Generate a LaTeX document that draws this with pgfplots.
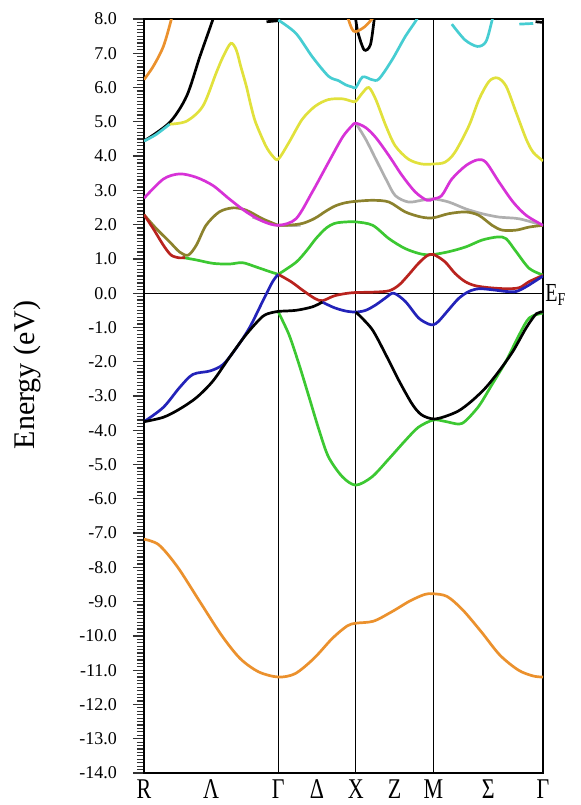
\documentclass[border=0pt]{standalone}
\usepackage{graphicx}
\usepackage{pgfplots}
\pgfplotsset{compat=1.18}
\usepackage{fontspec}
\setmainfont{Liberation Serif}
\definecolor{bOrange}{RGB}{235,145,45}
\definecolor{bCyan}{RGB}{70,205,210}
\definecolor{bYellow}{RGB}{225,225,60}
\definecolor{bMagenta}{RGB}{215,50,215}
\definecolor{bOlive}{RGB}{140,130,45}
\definecolor{bGreen}{RGB}{60,200,50}
\definecolor{bRed}{RGB}{185,35,30}
\definecolor{bBlue}{RGB}{35,35,185}
\definecolor{bGray}{RGB}{175,175,175}
\newcommand{\tl}[1]{\scalebox{1}[1.3]{#1}}
\begin{document}
\begin{tikzpicture}
\path[use as bounding box] (-72pt,-16pt) rectangle (218pt,386.5pt);
\begin{axis}[
  scale only axis, width=199.5pt, height=377pt,
  xmin=0, xmax=5.146, ymin=-14, ymax=8,
  xtick={0,0.866,1.732,2.232,2.732,3.232,3.732,4.439,5.146},
  xticklabels={\tl{R},\tl{Λ},\tl{Γ},\tl{Δ},\tl{X},\tl{Z},\tl{M},\tl{Σ},\tl{Γ}},
  x tick style={draw=none},
  xticklabel style={font=\fontsize{11}{13}\selectfont, anchor=north, inner sep=0pt, yshift=2.5pt},
  ytick={-14,-13,...,8},
  minor y tick num=9,
  ytick pos=left,
  tick align=outside,
  major tick length=5.5pt, minor tick length=3.5pt,
  y tick style={black!80, line width=0.6pt},
  /pgf/number format/assume math mode=true,
  yticklabel style={font=\fontsize{9}{10}\selectfont, xshift=-4.5pt,
    /pgf/number format/fixed, /pgf/number format/fixed zerofill,
    /pgf/number format/precision=1},
  ylabel={Energy (eV)},
  ylabel style={font=\fontsize{15}{17}\selectfont, at={(axis description cs:-0.293,0.528)}, anchor=center},
  axis line style={line width=0.9pt},
  every axis plot/.append style={smooth, line width=1.35pt, no markers},
]
% reference lines
\addplot[black, line width=0.6pt, sharp plot] coordinates {(0,0) (5.146,0)};
\addplot[black, line width=0.6pt, sharp plot] coordinates {(1.732,-14) (1.732,8)};
\addplot[black, line width=0.6pt, sharp plot] coordinates {(2.732,-14) (2.732,8)};
\addplot[black, line width=0.6pt, sharp plot] coordinates {(3.732,-14) (3.732,8)};
% gray
\addplot[bGray] coordinates {(1.4,2.22) (1.57,2.08) (1.732,1.98) (2.02,1.98)};
\addplot[bGray] coordinates {(2.732,4.96) (2.86,4.49) (2.99,3.91) (3.12,3.33) (3.24,2.85) (3.41,2.66) (3.58,2.71) (3.732,2.75) (3.93,2.66) (4.15,2.46) (4.36,2.32) (4.58,2.22) (4.84,2.17) (5.146,1.98)};
% olive
\addplot[bOlive] coordinates {(0,2.29) (0.16,1.88) (0.33,1.5) (0.46,1.2) (0.57,1.11) (0.675,1.4) (0.8,1.98) (0.97,2.37) (1.15,2.49) (1.32,2.42) (1.53,2.17) (1.732,1.98)};
\addplot[bOlive] coordinates {(1.732,1.98) (1.9,1.99) (2.05,2.04) (2.2,2.18) (2.35,2.4) (2.47,2.55) (2.6,2.64) (2.732,2.68) (2.95,2.71) (3.16,2.66) (3.37,2.37) (3.58,2.22) (3.732,2.2) (3.93,2.32) (4.15,2.37) (4.32,2.27) (4.49,1.98) (4.62,1.84) (4.8,1.84) (4.97,1.93) (5.146,1.98)};
% green
\addplot[bGreen] coordinates {(0.5,1.04) (0.675,0.97) (0.89,0.87) (1.1,0.85) (1.27,0.89) (1.44,0.77) (1.62,0.63) (1.732,0.55)};
\addplot[bGreen] coordinates {(1.732,0.55) (1.96,0.9) (2.1,1.25) (2.22,1.6) (2.35,1.9) (2.45,2.03) (2.55,2.07) (2.732,2.08) (2.95,1.98) (3.16,1.59) (3.37,1.3) (3.58,1.14) (3.732,1.13) (3.93,1.21) (4.15,1.35) (4.36,1.55) (4.56,1.64) (4.67,1.59) (4.8,1.21) (4.97,0.72) (5.146,0.53)};
\addplot[bGreen] coordinates {(1.732,-0.55) (1.87,-1.21) (2.0,-2.08) (2.13,-3.04) (2.26,-4.01) (2.38,-4.78) (2.56,-5.36) (2.732,-5.6) (2.94,-5.36) (3.16,-4.83) (3.37,-4.3) (3.54,-3.91) (3.732,-3.7) (3.88,-3.74) (4.06,-3.82) (4.15,-3.72) (4.32,-3.29) (4.49,-2.66) (4.67,-1.98) (4.84,-1.21) (4.97,-0.72) (5.146,-0.58)};
% red
\addplot[bRed] coordinates {(0,2.29) (0.12,1.88) (0.25,1.4) (0.35,1.11) (0.46,1.03) (0.53,1.04)};
\addplot[bRed] coordinates {(1.732,0.55) (1.9,0.33) (2.05,0.08) (2.2,-0.15) (2.3,-0.22) (2.45,-0.08) (2.6,-0.01) (2.732,0.02) (2.95,0.03) (3.16,0.07) (3.29,0.24) (3.41,0.53) (3.54,0.87) (3.65,1.09) (3.732,1.13) (3.88,0.92) (4.01,0.58) (4.14,0.34) (4.27,0.22) (4.45,0.16) (4.67,0.13) (4.84,0.16) (4.97,0.34) (5.146,0.52)};
% blue
\addplot[bBlue] coordinates {(0,-3.75) (0.25,-3.33) (0.46,-2.75) (0.63,-2.37) (0.85,-2.27) (1.02,-2.08) (1.19,-1.6) (1.36,-1.01) (1.53,-0.24) (1.66,0.34) (1.732,0.55)};
\addplot[bBlue] coordinates {(2.3,-0.26) (2.45,-0.42) (2.6,-0.52) (2.732,-0.55) (2.86,-0.5) (2.99,-0.34) (3.12,-0.13) (3.22,0.0) (3.37,-0.24) (3.54,-0.72) (3.67,-0.9) (3.732,-0.92) (3.8,-0.82) (3.93,-0.48) (4.06,-0.15) (4.19,0.05) (4.32,0.13) (4.49,0.1) (4.67,0.05) (4.8,0.05) (4.93,0.19) (5.146,0.5)};
% black
\addplot[black] coordinates {(0,-3.75) (0.25,-3.62) (0.46,-3.38) (0.68,-3.04) (0.89,-2.56) (1.1,-1.88) (1.32,-1.2) (1.53,-0.68) (1.66,-0.56) (1.732,-0.53) (1.96,-0.5) (2.17,-0.4) (2.3,-0.26)};
\addplot[black] coordinates {(2.732,-0.55) (2.94,-1.05) (3.12,-1.8) (3.29,-2.56) (3.46,-3.24) (3.58,-3.55) (3.732,-3.67) (3.88,-3.6) (4.06,-3.43) (4.23,-3.14) (4.41,-2.75) (4.58,-2.27) (4.76,-1.69) (4.93,-1.01) (5.06,-0.6) (5.146,-0.55)};
\addplot[black] coordinates {(0,4.44) (0.33,4.98) (0.55,5.75) (0.72,6.9) (0.89,8.0) (0.92,8.3)};
\addplot[black] coordinates {(1.58,7.92) (1.732,7.95)};
\addplot[black] coordinates {(2.732,7.97) (2.76,7.6) (2.84,7.1) (2.92,7.25) (2.97,8.0) (2.99,8.3)};
\addplot[black] coordinates {(5.05,7.92) (5.146,7.9)};
% magenta
\addplot[bMagenta] coordinates {(0,2.77) (0.25,3.33) (0.46,3.48) (0.675,3.38) (0.89,3.14) (1.1,2.75) (1.32,2.37) (1.53,2.1) (1.732,1.98) (1.96,2.17) (2.17,2.95) (2.38,3.82) (2.56,4.55) (2.68,4.88) (2.732,4.96) (2.86,4.83) (2.99,4.54) (3.16,4.01) (3.33,3.43) (3.5,2.95) (3.65,2.71) (3.732,2.75) (3.84,2.85) (3.97,3.33) (4.15,3.72) (4.3,3.89) (4.41,3.82) (4.58,3.24) (4.76,2.66) (4.93,2.27) (5.146,1.98)};
% yellow
\addplot[bYellow] coordinates {(0.33,4.93) (0.55,5.02) (0.76,5.46) (0.93,6.42) (1.02,6.9) (1.12,7.29) (1.19,7.1) (1.25,6.6) (1.32,6.04) (1.38,5.46) (1.44,4.98) (1.57,4.3) (1.66,4.0) (1.732,3.91) (1.87,4.4) (2.04,5.07) (2.21,5.46) (2.38,5.65) (2.56,5.67) (2.68,5.6) (2.732,5.6) (2.82,5.85) (2.9,6.0) (2.99,5.65) (3.12,4.88) (3.24,4.3) (3.41,3.91) (3.58,3.77) (3.732,3.77) (3.88,3.82) (4.01,4.11) (4.19,4.88) (4.32,5.65) (4.45,6.18) (4.56,6.28) (4.67,6.04) (4.8,5.27) (4.93,4.49) (5.02,4.11) (5.146,3.86)};
% cyan
\addplot[bCyan] coordinates {(0,4.44) (0.15,4.62) (0.33,4.93)};
\addplot[bCyan] coordinates {(1.732,7.97) (1.96,7.58) (2.17,6.9) (2.38,6.33) (2.51,6.2) (2.6,6.08) (2.68,6.02) (2.732,6.0) (2.82,6.31) (2.94,6.23) (3.03,6.25) (3.2,6.81) (3.37,7.49) (3.52,8.0) (3.56,8.3)};
\addplot[bCyan] coordinates {(3.97,7.85) (4.14,7.39) (4.3,7.2) (4.41,7.34) (4.49,7.97) (4.51,8.2)};
\addplot[bCyan] coordinates {(4.84,7.85) (5.02,7.87)};
% orange
\addplot[bOrange] coordinates {(0,6.23) (0.12,6.62) (0.25,7.2) (0.35,7.97) (0.38,8.3)};
\addplot[bOrange] coordinates {(2.62,8.1) (2.68,7.72) (2.732,7.63) (2.85,7.78) (2.96,8.05)};
\addplot[bOrange] coordinates {(0,-7.18) (0.19,-7.34) (0.43,-7.98) (0.72,-9.0) (1.0,-9.98) (1.24,-10.66) (1.48,-11.05) (1.732,-11.2) (1.95,-11.1) (2.19,-10.66) (2.43,-10.07) (2.62,-9.71) (2.732,-9.63) (2.96,-9.57) (3.2,-9.29) (3.43,-8.98) (3.62,-8.79) (3.732,-8.77) (3.91,-8.85) (4.11,-9.24) (4.35,-9.88) (4.59,-10.56) (4.83,-11.0) (5.02,-11.17) (5.146,-11.2)};
\coordinate (ef) at (axis cs:5.146,-0.25);
\end{axis}
\node[anchor=base west, inner sep=0pt, xshift=1pt, font=\fontsize{10}{12}\selectfont] at (ef) {\tl{E\textsubscript{F}}};
\end{tikzpicture}
\end{document}
